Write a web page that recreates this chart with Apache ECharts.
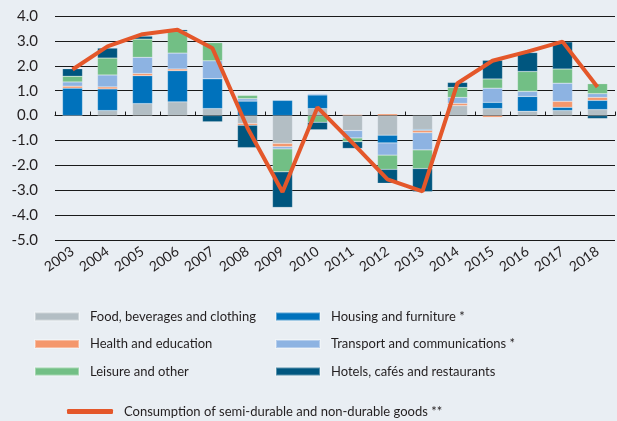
<!DOCTYPE html>
<html>
<head>
<meta charset="utf-8">
<script src="https://cdn.jsdelivr.net/npm/echarts@6/dist/echarts.min.js"></script>
<style>
  html, body { margin: 0; padding: 0; background: #e9eef3; }
  #chart { width: 617px; height: 421px; }
</style>
</head>
<body>
<div id="chart"></div>
<script>
// years on the x axis
const years = ['2003', '2004', '2005', '2006', '2007', '2008', '2009', '2010',
  '2011', '2012', '2013', '2014', '2015', '2016', '2017', '2018']

// contributions, percentage points
const food = [0, 0.2, 0.48, 0.55, 0.28, -0.32, -1.12, 0.28, -0.6, -0.79, -0.56, 0.4, 0.28, 0.17, 0.2, 0.24]
const housing = [1.1, 0.87, 1.12, 1.25, 1.2, 0.58, 0.61, 0.55, 0, -0.31, -0.04, 0, 0.25, 0.6, 0.13, 0.37]
const health = [0.08, 0.08, 0.09, 0.07, 0, -0.07, -0.13, 0, 0.04, 0.07, -0.09, 0.09, -0.07, 0, 0.24, 0.12]
const transport = [0.17, 0.48, 0.65, 0.64, 0.72, 0.1, -0.09, 0.05, -0.3, -0.49, -0.69, 0.24, 0.57, 0.2, 0.73, 0.15]
const leisure = [0.23, 0.68, 0.73, 0.87, 0.73, 0.13, -0.92, -0.27, -0.15, -0.57, -0.75, 0.4, 0.37, 0.8, 0.57, 0.4]
const hotels = [0.3, 0.4, 0.12, 0.07, -0.25, -0.9, -1.43, -0.3, -0.27, -0.56, -0.93, 0.2, 0.75, 0.76, 1.09, -0.12]

// total growth line
const total = [1.85, 2.78, 3.27, 3.45, 2.7, -0.5, -3.07, 0.33, -1.1, -2.56, -3.05, 1.3, 2.2, 2.57, 2.97, 1.15]

const fontFamily = 'Lato'
const textColor = '#231f20'

function bar(name, data, color) {
  return {
    name: name,
    type: 'bar',
    stack: 'total',
    barWidth: 20,
    data: data,
    itemStyle: { color: color, borderColor: 'rgba(255,255,255,0.35)', borderWidth: 0.5 }
  }
}

const seriesList = [
  bar('Food, beverages and clothing', food, '#b3bec4'),
  bar('Housing and furniture *', housing, '#0072bc'),
  bar('Health and education', health, '#f4976c'),
  bar('Transport and communications *', transport, '#8db3e2'),
  bar('Leisure and other', leisure, '#72bf85'),
  bar('Hotels, cafés and restaurants', hotels, '#00567f'),
  {
    name: 'Consumption of semi-durable and non-durable goods **',
    type: 'line',
    data: total,
    showSymbol: false,
    z: 5,
    lineStyle: { color: '#e4572a', width: 4 },
    itemStyle: { color: '#e4572a' }
  }
]

const legendText = { fontFamily: fontFamily, fontSize: 13, color: textColor, padding: [0, 0, 0, 6] }

const chart = echarts.init(document.getElementById('chart'))
chart.setOption({
  backgroundColor: '#e9eef3',
  animation: false,
  grid: { left: 55, right: 2, top: 16, height: 224 },
  legend: [
    {
      data: ['Food, beverages and clothing', 'Health and education', 'Leisure and other'],
      orient: 'vertical', left: 29, top: 305, itemGap: 14.5,
      itemWidth: 44, itemHeight: 8, icon: 'rect', textStyle: legendText
    },
    {
      data: ['Housing and furniture *', 'Transport and communications *', 'Hotels, cafés and restaurants'],
      orient: 'vertical', left: 270, top: 305, itemGap: 14.5,
      itemWidth: 44, itemHeight: 8, icon: 'rect', textStyle: legendText
    },
    {
      data: ['Consumption of semi-durable and non-durable goods **'],
      left: 62, top: 400,
      itemWidth: 46, itemHeight: 5, icon: 'roundRect', textStyle: legendText
    }
  ],
  xAxis: [
    {
      type: 'category',
      data: years,
      axisLine: { onZero: true, lineStyle: { color: '#1a1a1a', width: 1 } },
      axisTick: { show: true, inside: true, length: 4, lineStyle: { color: '#1a1a1a' } },
      axisLabel: { show: false }
    },
    {
      type: 'category',
      data: years,
      position: 'bottom',
      axisLine: { show: false, onZero: false },
      axisTick: { show: false },
      axisLabel: { rotate: 35, margin: 10, fontFamily: fontFamily, fontSize: 14, color: textColor }
    }
  ],
  yAxis: {
    type: 'value',
    min: -5,
    max: 4,
    interval: 1,
    axisLine: { show: false },
    axisTick: { show: false },
    splitLine: { lineStyle: { color: '#1a1a1a', width: 1 } },
    axisLabel: {
      margin: 17,
      fontFamily: fontFamily,
      fontSize: 15,
      color: textColor,
      formatter: v => v.toFixed(1)
    }
  },
  series: seriesList
})
</script>
</body>
</html>
